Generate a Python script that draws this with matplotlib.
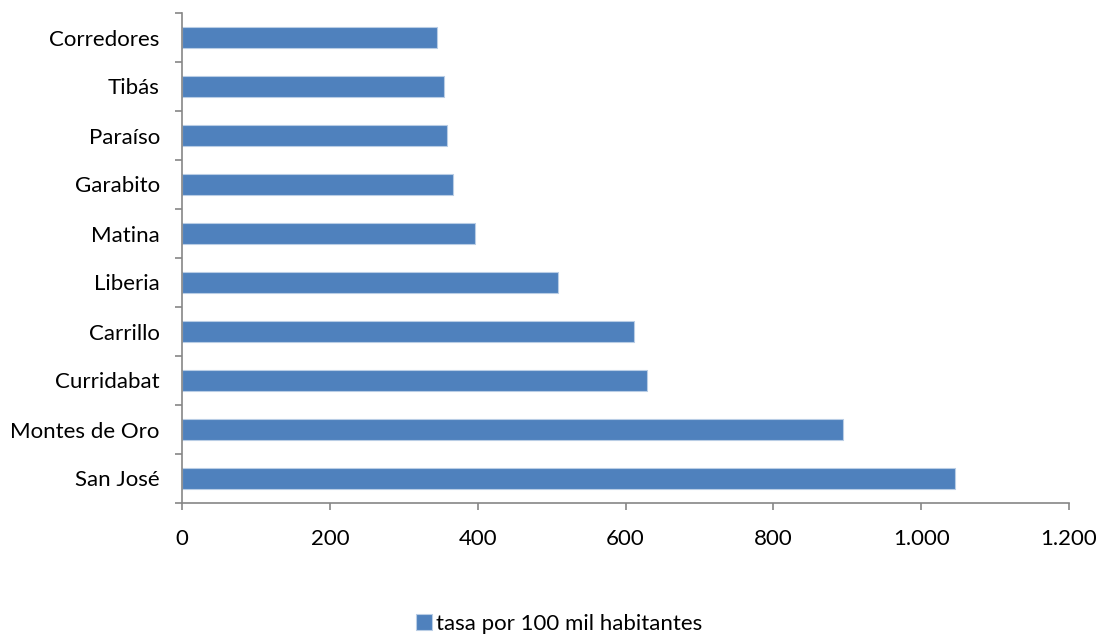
import matplotlib.pyplot as plt
from matplotlib.ticker import FuncFormatter

plt.rcParams['font.family'] = ['Lato', 'DejaVu Sans']

cantones = ["San José", "Montes de Oro", "Curridabat", "Carrillo", "Liberia",
            "Matina", "Garabito", "Paraíso", "Tibás", "Corredores"]
tasa = [1046, 894, 629, 612, 509, 396, 367, 359, 355, 345]
serie = "tasa por 100 mil habitantes"

axis_gray = "#868686"

fig = plt.figure(figsize=(11.01, 6.37), dpi=100)
ax = fig.add_axes([182 / 1101, 1 - 503 / 637, (1069 - 182) / 1101, (503 - 13) / 637])

ax.barh(range(len(cantones)), tasa, height=0.42, color="#4F81BD",
        edgecolor="#B9CDE5", linewidth=0.8, label=serie)

ax.set_xlim(0, 1200)
ax.set_ylim(-0.5, len(cantones) - 0.5)
ax.set_xticks(range(0, 1201, 200))
ax.xaxis.set_major_formatter(FuncFormatter(lambda v, p: f"{int(v):,}".replace(",", ".")))
ax.set_yticks(range(len(cantones)))
ax.set_yticklabels(cantones)
# category boundaries carry the tick marks
ax.set_yticks([i - 0.5 for i in range(len(cantones) + 1)], minor=True)
ax.tick_params(axis="y", which="major", length=0, pad=16)
ax.tick_params(axis="y", which="minor", length=5, color=axis_gray, width=1.2)
ax.tick_params(axis="x", length=5, color=axis_gray, width=1.2, pad=14)
ax.tick_params(labelsize=16)

for side in ["top", "right"]:
    ax.spines[side].set_visible(False)
for side in ["left", "bottom"]:
    ax.spines[side].set_color(axis_gray)
    ax.spines[side].set_linewidth(1.2)

fig.legend(loc="lower center", bbox_to_anchor=(0.508, -0.026), frameon=False,
           fontsize=16, handlelength=0.7, handleheight=0.7, handletextpad=0.2)

fig.savefig("out.png", dpi=100)
